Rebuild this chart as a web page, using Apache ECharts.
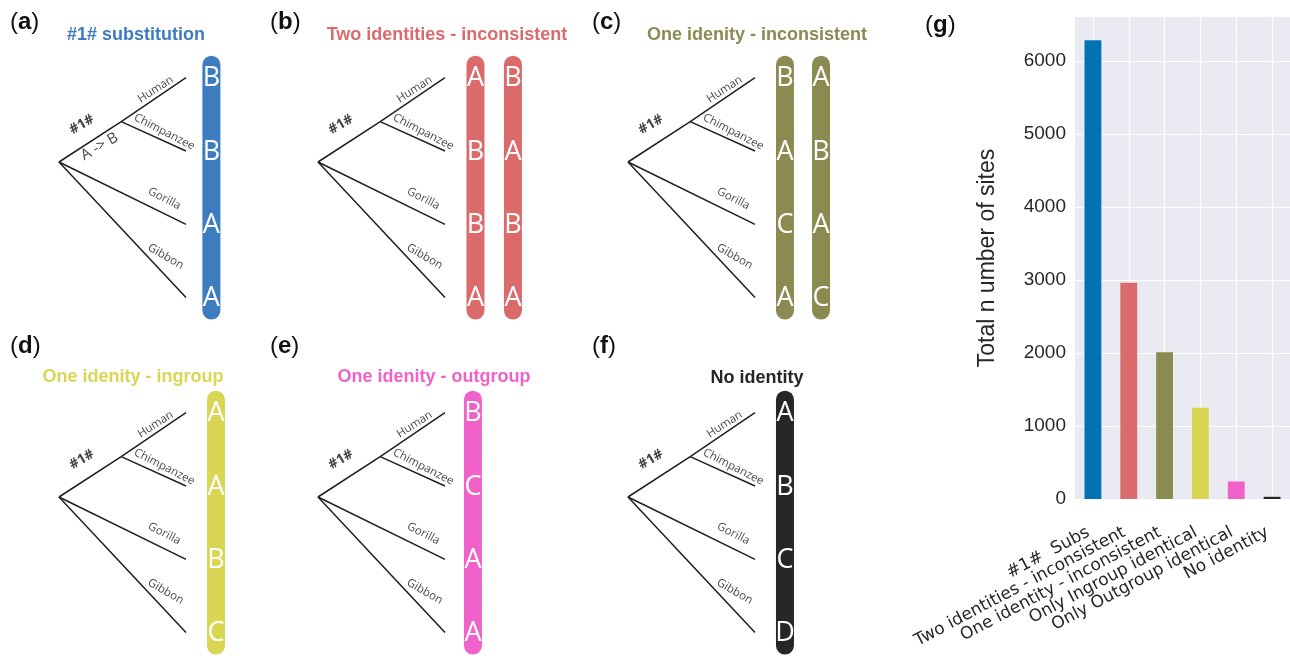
<!DOCTYPE html>
<html>
<head>
<meta charset="utf-8">
<script src="https://cdn.jsdelivr.net/npm/echarts@6/dist/echarts.min.js"></script>
<style>html,body{margin:0;padding:0;background:#fff}#main{width:1290px;height:664px}</style>
</head>
<body>
<div id="main"></div>
<script>
// (g) 柱状图数据
var categories = ['#1#  Subs', 'Two identities - inconsistent', 'One identity - inconsistent', 'Only Ingroup identical', 'Only Outgroup identical', 'No identity'];
var siteCounts = [6280, 2960, 2010, 1250, 240, 30];
var barColors = ['#0173B2', '#DB6A6B', '#8A8A51', '#D8D653', '#F061C9', '#262626'];
var yTicks = [0, 1000, 2000, 3000, 4000, 5000, 6000];

// (a)-(f) 系统树
var species = ['Human', 'Chimpanzee', 'Gorilla', 'Gibbon'];
var treeNodes = { root: [0, 1.15], hc: [0.49, 0.6], Human: [1, 0], Chimpanzee: [1, 1], Gorilla: [1, 2], Gibbon: [1, 3] };
var treeEdges = [['root', 'hc'], ['hc', 'Human'], ['hc', 'Chimpanzee'], ['root', 'Gorilla'], ['root', 'Gibbon']];

var panelTags = ['a', 'b', 'c', 'd', 'e', 'f'];
var panelTitles = ['#1# substitution', 'Two identities - inconsistent', 'One idenity - inconsistent', 'One idenity - ingroup', 'One idenity - outgroup', 'No identity'];
var panelColors = ['#3D7CBF', '#DB6A6B', '#8A8A51', '#D8D653', '#F061C9', '#262626'];
var panelSeqs = [
	[['B', 'B', 'A', 'A']],
	[['A', 'B', 'B', 'A'], ['B', 'A', 'B', 'A']],
	[['B', 'A', 'C', 'A'], ['A', 'B', 'A', 'C']],
	[['A', 'A', 'B', 'C']],
	[['B', 'C', 'A', 'A']],
	[['A', 'B', 'C', 'D']]
];

// 布局
var origins = [[59, 162], [318, 162], [628, 162], [59, 497], [318, 497], [628, 497]];
var colX = [[1.2], [1.24, 1.535], [1.236, 1.52], [1.236], [1.22], [1.236]];
var titlePos = [[136, 35], [447, 35], [757, 35], [133, 377], [434, 377], [757, 378]];
var tagPos = [[10, 22], [270, 22], [592, 22], [10, 346], [270, 346], [592, 346]];
var labelPos = { Human: [0.76, 0.16, 33], Chimpanzee: [0.83, 0.74, -27], Gorilla: [0.83, 1.65, -27], Gibbon: [0.84, 2.44, -30] };
var XS = 127, YS = 73.3;

var myChart = echarts.init(document.getElementById('main'));

function columnRenderer(seqs, color) {
	return function (params, api) {
		var seq = seqs[params.dataIndex];
		var x = api.value(0);
		var top = api.coord([x, -0.3]);
		var bot = api.coord([x, 3.3]);
		var children = [{
			type: 'rect',
			shape: { x: top[0] - 9, y: top[1], width: 18, height: bot[1] - top[1], r: 9 },
			style: { fill: color }
		}];
		seq.forEach(function (ch, i) {
			var p = api.coord([x, i]);
			children.push({
				type: 'text', x: p[0], y: p[1] + 1,
				style: { text: ch, fill: '#fff', fontSize: 27, fontFamily: 'Open Sans', align: 'center', verticalAlign: 'middle' }
			});
		});
		return { type: 'group', children: children };
	};
}

function tagText(t) {
	return {
		text: '{p|(}{t|' + t + '}{p|)}', verticalAlign: 'middle',
		rich: { p: { fontSize: 24, fontFamily: 'Liberation Sans', fill: '#111' }, t: { fontSize: 24, fontWeight: 'bold', fontFamily: 'Liberation Sans', fill: '#111' } }
	};
}

var grids = [], xAxes = [], yAxes = [], series = [], graphics = [];

for (var k = 0; k < 6; k++) {
	var o = origins[k];
	grids.push({ left: o[0], top: o[1] - 1.55 * YS, width: 1.6 * XS, height: 3.8 * YS, show: false });
	xAxes.push({ gridIndex: k, type: 'value', min: 0, max: 1.6, show: false });
	yAxes.push({ gridIndex: k, type: 'value', min: -0.4, max: 3.4, inverse: true, show: false });

	series.push({
		type: 'lines', coordinateSystem: 'cartesian2d', xAxisIndex: k, yAxisIndex: k, silent: true,
		lineStyle: { color: '#1f1f1f', width: 1.5, opacity: 1, curveness: 0 },
		data: treeEdges.map(function (e) { return { coords: [treeNodes[e[0]], treeNodes[e[1]]] }; })
	});

	var labels = species.map(function (s) {
		var lp = labelPos[s];
		return { name: s, value: [lp[0], lp[1]], label: { rotate: lp[2] } };
	});
	labels.push({ name: '#1#', value: [0.18, 0.64], label: { rotate: 30, fontWeight: 'bold', fontSize: 14 } });
	if (k === 0) {
		labels.push({ name: 'A -> B', value: [0.32, 0.94], label: { rotate: 30, fontSize: 15 } });
	}
	series.push({
		type: 'scatter', xAxisIndex: k, yAxisIndex: k, silent: true, symbolSize: 1,
		itemStyle: { color: 'rgba(0,0,0,0)' },
		label: { show: true, position: 'inside', formatter: '{b}', color: '#111', fontSize: 11.5, fontFamily: 'Open Sans' },
		data: labels
	});

	series.push({
		type: 'custom', xAxisIndex: k, yAxisIndex: k, silent: true,
		renderItem: columnRenderer(panelSeqs[k], panelColors[k]),
		encode: { x: 0, y: 1 },
		data: colX[k].map(function (c) { return [c, 0]; })
	});

	graphics.push({
		type: 'text', x: titlePos[k][0], y: titlePos[k][1],
		style: { text: panelTitles[k], fill: panelColors[k], fontSize: 18, fontWeight: 'bold', fontFamily: 'Liberation Sans', align: 'center', verticalAlign: 'middle' }
	});
	graphics.push({ type: 'text', x: tagPos[k][0], y: tagPos[k][1], style: tagText(panelTags[k]) });
}

graphics.push({ type: 'text', x: 925, y: 25, style: tagText('g') });

// (g)
grids.push({ left: 1075, width: 215, top: 17, bottom: 165, show: true, backgroundColor: '#EAEAF2', borderWidth: 0 });
xAxes.push({
	gridIndex: 6, type: 'category', data: categories,
	axisLine: { show: false }, axisTick: { show: false },
	axisLabel: { rotate: 28, margin: 30, padding: [0, 5, 0, 0], interval: 0, fontSize: 17, color: '#262626', fontFamily: 'DejaVu Sans' },
	splitLine: { show: false }
});
yAxes.push({
	gridIndex: 6, type: 'value', min: 0, max: 6600, interval: 1000,
	name: 'Total n umber of sites', nameLocation: 'middle', nameGap: 76,
	nameTextStyle: { fontSize: 23, color: '#262626', fontFamily: 'Liberation Sans' },
	axisLine: { show: false }, axisTick: { show: false },
	axisLabel: { fontSize: 19, color: '#262626', fontFamily: 'Liberation Sans', margin: 9, showMaxLabel: false,
		formatter: function (v) { return yTicks.indexOf(v) >= 0 ? String(v) : ''; } },
	splitLine: { show: true, showMaxLine: false, lineStyle: { color: '#fff', width: 1.2 } }
});
series.push({
	type: 'bar', xAxisIndex: 6, yAxisIndex: 6, barWidth: '47%',
	data: siteCounts.map(function (v, i) { return { value: v, itemStyle: { color: barColors[i] } }; }),
	markLine: {
		silent: true, symbol: 'none', z: 1, label: { show: false },
		lineStyle: { color: '#fff', width: 1.2, type: 'solid' },
		data: categories.map(function (c) { return { xAxis: c }; })
	}
});

option = {
	animation: false,
	backgroundColor: '#fff',
	grid: grids,
	xAxis: xAxes,
	yAxis: yAxes,
	series: series,
	graphic: graphics
};
myChart.setOption(option, true);
</script>
</body>
</html>
